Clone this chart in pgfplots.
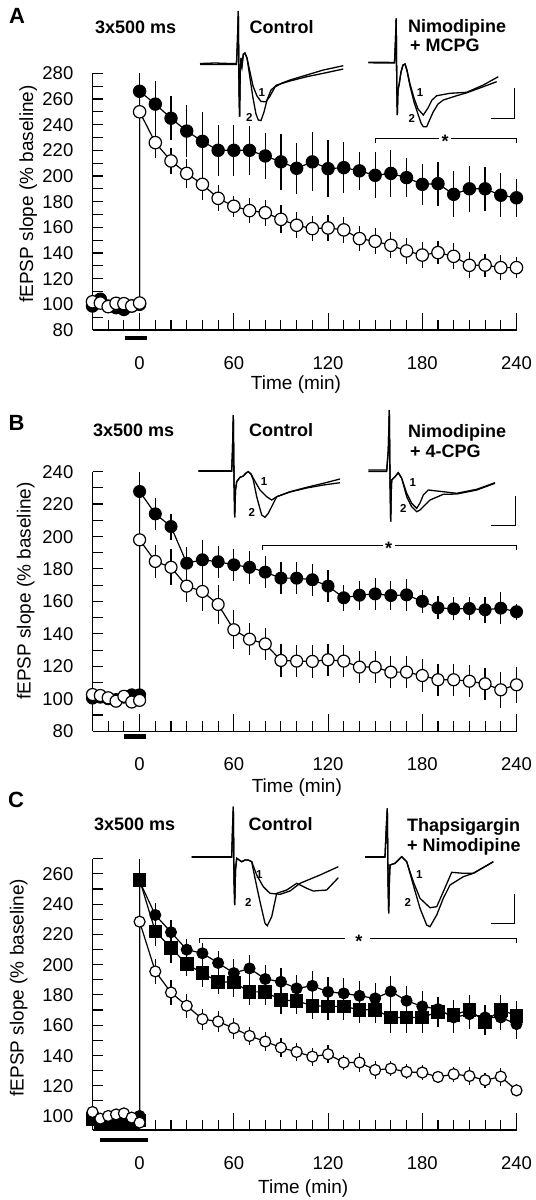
\documentclass[border=0pt]{standalone}
\usepackage{pgfplots}
\pgfplotsset{compat=1.18}
\usepackage{fontspec}
\setmainfont{Liberation Sans}
\newcommand\tlfont{\fontsize{18.5bp}{18.5bp}\selectfont}
\newcommand\lbfont{\fontsize{19bp}{19bp}\selectfont}
\newcommand\hdfont{\fontsize{18bp}{18bp}\selectfont\bfseries}
\newcommand\pnfont{\fontsize{22bp}{22bp}\selectfont\bfseries}
\newcommand\nmfont{\fontsize{11.5bp}{11.5bp}\selectfont\bfseries}
\pgfplotsset{
  panel/.style={
    scale only axis, width=424bp, xmin=-30, xmax=240, clip=false,
    axis x line=bottom, axis y line=left,
    axis line style={-, line width=1.1bp, black},
    tick align=inside, tick style={black, line width=1.1bp},
    major tick length=10.7bp, minor tick length=10bp,
    xtick={0,60,120,180,240},
    minor xtick={-20,-10,10,20,30,40,50,70,80,90,100,110,130,140,150,160,170,190,200,210,220,230},
    extra x ticks={0,60,120,180,240}, extra x tick labels={},
    extra x tick style={major tick length=17bp},
    /pgf/number format/assume math mode=true,
    tick label style={font=\tlfont, inner sep=0pt},
    x tick label style={anchor=base, yshift=-39.5bp},
    y tick label style={anchor=base east, xshift=-19bp, yshift=-6.6bp},
    label style={font=\lbfont},
    xlabel={Time (min)}, ylabel={fEPSP slope (\% baseline)},
  },
  filled/.style={black, line width=1.2bp, mark=*, mark options={fill=black, draw=black, line width=1bp},
    error bars/y dir=both, error bars/y explicit, error bars/error mark=none,
    error bars/error bar style={line width=1.2bp, black}},
  open/.style={black, line width=1.2bp, mark=*, mark options={fill=white, draw=black, line width=1.2bp},
    error bars/y dir=both, error bars/y explicit, error bars/error mark=none,
    error bars/error bar style={line width=1.2bp, black}},
  square/.style={black, line width=1.2bp, mark=square*, mark options={fill=black, draw=black, line width=1bp},
    error bars/y dir=both, error bars/y explicit, error bars/error mark=none,
    error bars/error bar style={line width=1.2bp, black}},
  trace/.style={black, line width=1.3bp, no marks},
}
\begin{document}
\begin{tikzpicture}
\useasboundingbox (0,0) rectangle (536bp,-1200bp);
% ---------- overlay in image pixels: headers, traces, scale bars ----------
\begin{axis}[at={(0,0)}, anchor=north west, scale only axis, width=536bp, height=1200bp,
  xmin=0, xmax=536, ymin=0, ymax=1200, y dir=reverse, hide axis, clip=false]
% panel letters and headers
\node[anchor=base west, font=\pnfont, inner sep=0pt] at (axis cs:9,23) {A};
\node[anchor=base west, font=\pnfont, inner sep=0pt] at (axis cs:8.5,430) {B};
\node[anchor=base west, font=\pnfont, inner sep=0pt] at (axis cs:8,807) {C};
\node[anchor=base west, font=\hdfont, inner sep=0pt] at (axis cs:95,33) {3x500 ms};
\node[anchor=base west, font=\hdfont, inner sep=0pt] at (axis cs:93,436.7) {3x500 ms};
\node[anchor=base west, font=\hdfont, inner sep=0pt] at (axis cs:94,830) {3x500 ms};
\node[anchor=base west, font=\hdfont, inner sep=0pt] at (axis cs:249.5,33.3) {Control};
\node[anchor=base west, font=\hdfont, inner sep=0pt] at (axis cs:249,436.7) {Control};
\node[anchor=base west, font=\hdfont, inner sep=0pt] at (axis cs:248.5,830) {Control};
\node[anchor=base west, font=\hdfont, inner sep=0pt] at (axis cs:408,32.7) {Nimodipine};
\node[anchor=base west, font=\hdfont, inner sep=0pt] at (axis cs:410,51.5) {+ MCPG};
\node[anchor=base west, font=\hdfont, inner sep=0pt] at (axis cs:408,437.5) {Nimodipine};
\node[anchor=base west, font=\hdfont, inner sep=0pt] at (axis cs:410,457) {+ 4-CPG};
\node[anchor=base west, font=\hdfont, inner sep=0pt] at (axis cs:407,831) {Thapsigargin};
\node[anchor=base west, font=\hdfont, inner sep=0pt] at (axis cs:407,851) {+ Nimodipine};
% trace numbers
\node[font=\nmfont] at (axis cs:261.7,92.3) {1};
\node[font=\nmfont] at (axis cs:249.3,117.7) {2};
\node[font=\nmfont] at (axis cs:420,92.3) {1};
\node[font=\nmfont] at (axis cs:411.7,118.3) {2};
\node[font=\nmfont] at (axis cs:264,481.7) {1};
\node[font=\nmfont] at (axis cs:251.7,512.7) {2};
\node[font=\nmfont] at (axis cs:412.7,482.7) {1};
\node[font=\nmfont] at (axis cs:403.3,508.3) {2};
\node[font=\nmfont] at (axis cs:259.3,875) {1};
\node[font=\nmfont] at (axis cs:248.3,902.3) {2};
\node[font=\nmfont] at (axis cs:419.3,875) {1};
\node[font=\nmfont] at (axis cs:407.7,902.3) {2};
% scale bars
\addplot[trace] coordinates {(490.6,118.3) (514.5,118.3) (514.5,87.6)};
\addplot[trace] coordinates {(490.6,525.5) (515.6,525.5) (515.6,495.5)};
\addplot[trace] coordinates {(490.6,923.6) (514.5,923.6) (514.5,894.3)};
% A control traces
\addplot[trace] coordinates {(200,63.5) (215,63) (230,63.5) (236.5,63.5) (237.5,40) (238.3,11) (239,90) (239.6,116.7) (240.3,70) (241,58) (242,66) (243.3,54.3) (245,53) (247,58) (250,72) (253,86) (257,96) (261,101.5) (266,101.7) (270,96) (275,87) (282,83) (290,80) (306.7,75) (323.3,70) (343.3,65.7)};
\addplot[trace] coordinates {(200,64.5) (236.5,64.5) (237.5,40) (238.3,11) (239,90) (239.6,116.7) (240.3,70) (241,58) (242,66) (243.3,54.3) (245,53) (247,58) (250,78) (253,98) (256,114) (258.3,120) (261,120.5) (264,112) (267,100) (271,90) (276.7,85) (290,81) (306.7,76.7) (323.3,73.3) (343.3,69)};
% A nimodipine + MCPG traces
\addplot[trace] coordinates {(368.3,62.3) (385,62.3) (394.5,62.5) (395.5,40) (396.2,18.3) (396.8,90) (397.3,115) (398,90) (399.3,83.3) (401,72) (403,65) (405,64) (407,70) (410,84) (414,98) (418,109) (423.3,115) (428,108) (432,100) (436.7,95.7) (450,93.3) (466.7,92.3) (483.3,85) (498.3,76.7)};
\addplot[trace] coordinates {(368.3,62.8) (394.5,63) (395.5,40) (396.2,18.3) (396.8,90) (397.3,115) (398,90) (399.3,83.3) (401,72) (403,65) (405,64) (407,71) (410,86) (414,102) (418.3,115) (421,123) (423.3,126.7) (426.7,126.7) (430,119) (433.3,111.7) (438,104) (443.3,100) (456.7,95.7) (466.7,92.8) (483.3,86.7) (496.7,81.7)};
% B control traces
\addplot[trace] coordinates {(198.3,470.7) (231.7,470.7) (232.5,450) (233.3,415) (234,480) (234.7,517.3) (235.5,490) (236.7,481.7) (240,477.3) (243.3,476) (246,473) (248.3,471.7) (251,474) (253.3,478.3) (256,483) (260,490) (266.7,496.7) (271.7,500) (276.7,496.7) (290,491.7) (306.7,487.3) (323.3,483.3) (340,479)};
\addplot[trace] coordinates {(198.3,471.3) (231.7,471.3) (232.5,450) (233.3,415) (234,480) (234.7,517.3) (235.5,490) (236.7,481.7) (240,477.3) (243.3,476) (246,473) (248.3,471.7) (251,474) (253.3,480) (256.7,496.7) (261.7,515) (265,517.3) (268.3,513.3) (275,500) (276.7,496.7) (290,492) (306.7,488) (323.3,485) (340,482.7)};
% B nimodipine + 4-CPG traces
\addplot[trace] coordinates {(368.3,470) (386.7,470) (388.3,450) (389.3,410) (390,480) (390.7,521.7) (391.3,490) (391.7,480) (395,476.7) (398.3,472.7) (401.7,478.3) (406.7,493.3) (411.7,503.3) (416.7,508.3) (420,503) (423.3,495) (428.3,490) (443.3,491.7) (456.7,493.3) (476.7,489.3) (495,482.7)};
\addplot[trace] coordinates {(368.3,471.5) (386.7,471.5) (388.3,450) (389.3,410) (390,480) (390.7,521.7) (391.3,490) (391.7,480) (395,476.7) (398.3,472.7) (401.7,478.3) (406.7,496.7) (411.7,506.7) (416.7,511.7) (420,510) (430,500) (443.3,494.3) (456.7,494) (476.7,490) (495,483.3)};
% C control traces
\addplot[trace] coordinates {(191.7,856.7) (231.7,856.7) (232.5,830) (233.3,806.7) (234,880) (234.7,905) (235.5,870) (236.7,858.3) (241.7,861.7) (245,860) (248.3,860) (251.7,861.7) (256.7,875) (263.3,886.7) (270,893.3) (280,894.3) (290,891) (300,883.3) (320,875) (338.3,866.7)};
\addplot[trace] coordinates {(191.7,857.3) (231.7,857.3) (232.5,830) (233.3,806.7) (234,880) (234.7,905) (235.5,870) (236.7,858.3) (241.7,861.7) (245,860) (248.3,860) (251.7,861.7) (255,878.3) (260,901.7) (265,923.3) (267.3,925.7) (271.7,916.7) (276.7,893.3) (286.7,890) (296.7,883.3) (306.7,888.3) (313.3,891) (326.7,890) (338.3,877.7)};
% C thapsigargin + nimodipine traces
\addplot[trace] coordinates {(365,856.7) (385,856.7) (386.2,830) (387.3,808.3) (388,880) (388.7,913.3) (389.4,880) (390,865) (395,863.3) (401.7,856.7) (406.7,861.7) (413.3,881.7) (420,898.3) (430,907.7) (436.7,906.7) (443.3,891.7) (451.7,872.3) (463.3,873.3) (473.3,873.3) (493.3,861.7)};
\addplot[trace] coordinates {(365,857.3) (385,857.3) (386.2,830) (387.3,808.3) (388,880) (388.7,913.3) (389.4,880) (390,865) (395,863.3) (401.7,856.7) (406.7,861.7) (413.3,885) (420,908.3) (426.7,925) (430,926.7) (436.7,915) (443.3,898.3) (450,885) (463.3,876.7) (473.3,873.3) (493.3,861.7)};
\end{axis}
% ---------------- Panel A ----------------
\begin{axis}[panel, at={(92.5bp,-330bp)}, anchor=south west, height=256.7bp,
  ymin=80, ymax=280, ytick={80,100,...,280}, minor ytick={90,110,...,270},
  xlabel style={at={(axis description cs:0.48,-0.2143)}, anchor=center},
  ylabel style={at={(axis description cs:-0.1517,0.53)}, anchor=center}]
\addplot[filled, mark size=6.2bp] coordinates {
(-30,98.7) +- (0,2) (-25,104) +- (0,2) (-20,98.7) +- (0,2) (-15,97.4) +- (0,2) (-10,96) +- (0,2) (-5,98.7) +- (0,2) (0,100) +- (0,2)
(0,266) +- (0,14) (10,256) +- (0,18) (20,245) +- (0,17) (30,235) +- (0,20) (40,227) +- (0,23) (50,220) +- (0,20) (60,220) +- (0,20) (70,220) +- (0,19) (80,215.6) +- (0,18) (90,211) +- (0,22) (100,206) +- (0,20) (110,211) +- (0,23) (120,205.7) +- (0,22) (130,206.5) +- (0,20) (140,204) +- (0,15) (150,200.5) +- (0,18) (160,202) +- (0,18) (170,198.7) +- (0,15) (180,193.5) +- (0,16) (190,194) +- (0,17) (200,185.7) +- (0,18) (210,190) +- (0,18) (220,190) +- (0,17) (230,185) +- (0,17) (240,183) +- (0,15)};
\addplot[open, mark size=6.2bp] coordinates {
(-30,102) +- (0,2) (-25,101) +- (0,2) (-20,98.2) +- (0,2) (-15,100.8) +- (0,2) (-10,100.5) +- (0,2) (-5,98.7) +- (0,2) (0,101) +- (0,2)
(0,250) +- (0,5) (10,226) +- (0,12) (20,211.7) +- (0,10) (30,202) +- (0,11) (40,193.5) +- (0,12) (50,182.6) +- (0,10) (60,176.4) +- (0,8) (70,173) +- (0,10) (80,171.4) +- (0,10) (90,166.2) +- (0,11) (100,161.6) +- (0,10) (110,159) +- (0,10) (120,159.5) +- (0,10) (130,158) +- (0,10) (140,151.2) +- (0,10) (150,149.1) +- (0,10) (160,146) +- (0,10) (170,141.6) +- (0,10) (180,138.4) +- (0,10) (190,140.3) +- (0,9) (200,137.4) +- (0,10) (210,130.4) +- (0,10) (220,130.6) +- (0,9) (230,128.6) +- (0,10) (240,128.6) +- (0,8)};
\draw[line width=0.9bp] ([yshift=-4.5bp]axis cs:150,229) -- (axis cs:150,229) -- (axis cs:190.8,229);
\draw[line width=0.9bp] (axis cs:198.4,229) -- (axis cs:240,229) -- ([yshift=-4.5bp]axis cs:240,229);
\node[font=\hdfont, yshift=-3bp] at (axis cs:194.5,229) {*};
\draw[line width=4.5bp] ([yshift=-8bp]axis cs:-9.6,80) -- ([yshift=-8bp]axis cs:4.6,80);
\end{axis}
% ---------------- Panel B ----------------
\begin{axis}[panel, at={(92.5bp,-731.2bp)}, anchor=south west, height=259.7bp,
  ymin=80, ymax=240, ytick={80,100,...,240}, minor ytick={90,110,...,230},
  xlabel style={at={(axis description cs:0.482,-0.2156)}, anchor=center},
  ylabel style={at={(axis description cs:-0.1578,0.54)}, anchor=center}]
\addplot[filled, mark size=6bp] coordinates {
(-30,100.4) +- (0,2) (-25,101) +- (0,2) (-20,100) +- (0,2) (-15,99.5) +- (0,2) (-10,101) +- (0,2) (-5,102.4) +- (0,2) (0,102.4) +- (0,2)
(0,227.7) +- (0,12) (10,213.9) +- (0,10) (20,206.1) +- (0,8) (30,183.5) +- (0,10) (40,185.6) +- (0,12) (50,184.4) +- (0,10) (60,182.5) +- (0,10) (70,181) +- (0,10) (80,178) +- (0,10) (90,174.3) +- (0,10) (100,174.3) +- (0,10) (110,173.3) +- (0,10) (120,169.4) +- (0,10) (130,162.2) +- (0,8) (140,163.8) +- (0,9) (150,164.6) +- (0,10) (160,163.6) +- (0,9) (170,164) +- (0,10) (180,160) +- (0,7) (190,156) +- (0,7) (200,155.4) +- (0,7) (210,155.6) +- (0,7) (220,154.8) +- (0,8) (230,155.8) +- (0,10) (240,153.6) +- (0,5)};
\addplot[open, mark size=6bp] coordinates {
(-30,102.6) +- (0,2) (-25,102) +- (0,2) (-20,100.6) +- (0,2) (-15,98.5) +- (0,2) (-10,101.5) +- (0,2) (-5,98) +- (0,2) (0,99) +- (0,2)
(0,197.9) +- (0,5) (10,184.6) +- (0,10) (20,181) +- (0,11) (30,169.4) +- (0,10) (40,166.1) +- (0,12) (50,158.1) +- (0,12) (60,142.5) +- (0,12) (70,136.7) +- (0,10) (80,133.8) +- (0,10) (90,123.6) +- (0,10) (100,123.2) +- (0,10) (110,123) +- (0,10) (120,124) +- (0,10) (130,123.2) +- (0,10) (140,119.5) +- (0,10) (150,119.5) +- (0,10) (160,116.4) +- (0,10) (170,116.4) +- (0,10) (180,114.3) +- (0,10) (190,111.7) +- (0,10) (200,111.7) +- (0,10) (210,110.8) +- (0,10) (220,109.2) +- (0,10) (230,105.5) +- (0,11) (240,108.6) +- (0,11)};
\draw[line width=0.9bp] ([yshift=-4.5bp]axis cs:78.5,194.4) -- (axis cs:78.5,194.4) -- (axis cs:154.9,194.4);
\draw[line width=0.9bp] (axis cs:162.5,194.4) -- (axis cs:240,194.4) -- ([yshift=-4.5bp]axis cs:240,194.4);
\node[font=\hdfont, yshift=-3bp] at (axis cs:158.5,194.4) {*};
\draw[line width=4.5bp] ([yshift=-5.2bp]axis cs:-10,80) -- ([yshift=-5.2bp]axis cs:4,80);
\end{axis}
% ---------------- Panel C ----------------
\begin{axis}[panel, at={(92.5bp,-1130bp)}, anchor=south west, height=271.3bp,
  ymin=90.7, ymax=270, ytick={100,120,...,260}, minor ytick={110,130,...,270},
  xlabel style={at={(axis description cs:0.497,-0.2175)}, anchor=center},
  ylabel style={at={(axis description cs:-0.1738,0.525)}, anchor=center}]
\addplot[filled, mark size=5.5bp] coordinates {
(-30,97.7) +- (0,2) (-25,96) +- (0,2) (-20,94) +- (0,2) (-15,96) +- (0,2) (-10,95) +- (0,2) (-5,97) +- (0,2) (0,100) +- (0,2)
(0,255) +- (0,8) (10,232.8) +- (0,8) (20,221.4) +- (0,8) (30,209.9) +- (0,7) (40,207.5) +- (0,7) (50,201.1) +- (0,8) (60,194.4) +- (0,9) (70,197.5) +- (0,9) (80,190.5) +- (0,9) (90,188.7) +- (0,9) (100,184.3) +- (0,9) (110,186) +- (0,10) (120,182) +- (0,10) (130,181) +- (0,10) (140,179.4) +- (0,10) (150,177.7) +- (0,10) (160,182.3) +- (0,10) (170,176.1) +- (0,10) (180,172.4) +- (0,10) (190,170.6) +- (0,8) (200,165.1) +- (0,10) (210,167.3) +- (0,10) (220,165.1) +- (0,8) (230,165.1) +- (0,8) (240,160.7) +- (0,10)};
\addplot[square, mark size=6.3bp] coordinates {
(-30,98) +- (0,2) (-25,95) +- (0,2) (-20,95.5) +- (0,2) (-15,94.5) +- (0,2) (-10,95) +- (0,2) (-5,96) +- (0,2) (0,97) +- (0,2)
(0,256) +- (0,14) (10,222) +- (0,10) (20,211) +- (0,10) (30,200.4) +- (0,8) (40,194.4) +- (0,9) (50,188.7) +- (0,8) (60,188.3) +- (0,10) (70,182) +- (0,9) (80,182) +- (0,9) (90,176.6) +- (0,9) (100,176.1) +- (0,9) (110,172.8) +- (0,9) (120,172.4) +- (0,9) (130,172.4) +- (0,9) (140,170.2) +- (0,9) (150,170.2) +- (0,9) (160,165.1) +- (0,10) (170,165.1) +- (0,10) (180,165.1) +- (0,10) (190,168.8) +- (0,10) (200,166.6) +- (0,10) (210,170.2) +- (0,10) (220,162.2) +- (0,9) (230,170.2) +- (0,10) (240,166.2) +- (0,10)};
\addplot[open, mark size=5.5bp] coordinates {
(-30,102.6) +- (0,2) (-25,98.2) +- (0,2) (-20,100) +- (0,2) (-15,101) +- (0,2) (-10,101.7) +- (0,2) (-5,98.9) +- (0,2) (0,95.6) +- (0,2)
(0,228.4) +- (0,5) (10,195.5) +- (0,8) (20,181.6) +- (0,8) (30,172.8) +- (0,8) (40,164) +- (0,7) (50,162.4) +- (0,7) (60,158) +- (0,7) (70,152.9) +- (0,6) (80,149.2) +- (0,6) (90,145.2) +- (0,6) (100,142.3) +- (0,6) (110,139.2) +- (0,6) (120,140.8) +- (0,6) (130,135.3) +- (0,5) (140,135.3) +- (0,6) (150,130.4) +- (0,6) (160,131.3) +- (0,5) (170,129.1) +- (0,5) (180,128.7) +- (0,5) (190,125.8) +- (0,4) (200,127.6) +- (0,5) (210,126.4) +- (0,6) (220,123.6) +- (0,5) (230,126) +- (0,6) (240,116.9) +- (0,4)};
\draw[line width=0.9bp] ([yshift=-4.5bp]axis cs:38,217.4) -- (axis cs:38,217.4) -- (axis cs:131,217.4);
\draw[line width=0.9bp] (axis cs:147,217.4) -- (axis cs:240,217.4) -- ([yshift=-4.5bp]axis cs:240,217.4);
\node[font=\hdfont, yshift=-3bp] at (axis cs:139.6,217.4) {*};
\draw[line width=4.5bp] ([yshift=-9.8bp]axis cs:-25,90.7) -- ([yshift=-9.8bp]axis cs:5.2,90.7);
\end{axis}
\end{tikzpicture}
\end{document}
